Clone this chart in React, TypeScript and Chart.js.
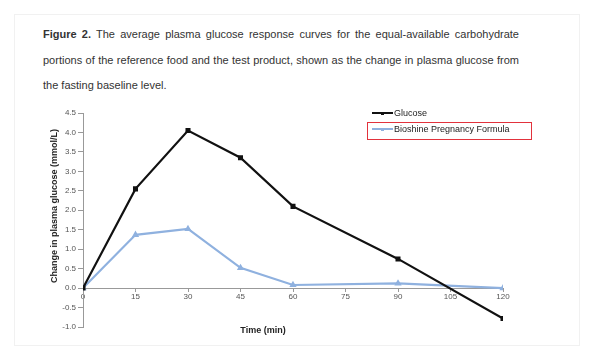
import React, { useEffect, useRef } from "react";
import { Chart, registerables } from "chart.js";

Chart.register(...registerables);

const timePoints = [0, 15, 30, 45, 60, 90, 120];
const glucoseValues = [0, 2.55, 4.05, 3.35, 2.1, 0.75, -0.78];
const bioshineValues = [0, 1.37, 1.52, 0.52, 0.08, 0.12, 0.0];
const seriesLabels = ["Glucose", "Bioshine Pregnancy Formula"];
const seriesColors = ["#111111", "#8fb1df"];
const xTicks = [0, 15, 30, 45, 60, 75, 90, 105, 120];
const yTicks = [-1.0, -0.5, 0.0, 0.5, 1.0, 1.5, 2.0, 2.5, 3.0, 3.5, 4.0, 4.5];

const FONT = "'Liberation Sans', Arial, sans-serif";

export default function App() {
  const ref = useRef<HTMLCanvasElement | null>(null);

  useEffect(() => {
    if (!ref.current) return;
    const toPts = (vals: number[]) => timePoints.map((t, i) => ({ x: t, y: vals[i] }));
    const chart = new Chart(ref.current, {
      type: "line",
      data: {
        datasets: [
          {
            label: seriesLabels[0],
            data: toPts(glucoseValues),
            borderColor: seriesColors[0],
            backgroundColor: seriesColors[0],
            borderWidth: 2.2,
            pointStyle: "rect",
            pointRadius: 2,
            tension: 0,
          },
          {
            label: seriesLabels[1],
            data: toPts(bioshineValues),
            borderColor: seriesColors[1],
            backgroundColor: seriesColors[1],
            borderWidth: 2.2,
            pointStyle: "triangle",
            pointRadius: 2,
            tension: 0,
          },
        ],
      },
      options: {
        responsive: false,
        animation: false,
        devicePixelRatio: 1,
        layout: { padding: { left: 0, right: 97, top: 13, bottom: 31 } },
        plugins: { legend: { display: false }, tooltip: { enabled: false } },
        scales: {
          x: {
            type: "linear",
            position: { y: 0 } as any,
            min: 0,
            max: 120,
            afterBuildTicks: (s: any) => {
              s.ticks = xTicks.map((v) => ({ value: v }));
            },
            ticks: {
              autoSkip: false,
              maxRotation: 0,
              color: "#555",
              font: { family: FONT, size: 8 },
              padding: 1,
              callback: (v: any) => String(v),
            },
            grid: { drawOnChartArea: false, drawTicks: true, tickLength: 3, color: "#999" },
            border: { display: true, color: "#999", width: 1 },
          },
          y: {
            min: -1,
            max: 4.5,
            afterBuildTicks: (s: any) => {
              s.ticks = yTicks.map((v) => ({ value: v }));
            },
            afterFit: (s: any) => {
              s.width = 83;
            },
            ticks: {
              autoSkip: false,
              color: "#555",
              font: { family: FONT, size: 8 },
              padding: 2,
              callback: (v: any) => Number(v).toFixed(1),
            },
            grid: { drawOnChartArea: false, drawTicks: true, tickLength: 5, color: "#999" },
            border: { display: true, color: "#999", width: 1 },
          },
        },
      },
    });
    return () => chart.destroy();
  }, []);

  const lineStyle = { fontFamily: FONT, fontSize: 11, color: "#333", whiteSpace: "nowrap" as const, textAlign: "justify" as const, textAlignLast: "justify" as const, width: 476, height: 25.5, lineHeight: "25.5px" };

  return (
    <div style={{ position: "absolute", left: 0, top: 0, width: 600, height: 358, background: "#fff", overflow: "hidden" }}>
      <div style={{ position: "absolute", left: 14, top: 14, width: 564, height: 330, border: "1px solid #f1f1f1" }} />
      <div style={{ position: "absolute", left: 43, top: 22 }}>
        <div style={lineStyle}>
          <b>Figure 2.</b> The average plasma glucose response curves for the equal-available carbohydrate
        </div>
        <div style={lineStyle}>
          portions of the reference food and the test product, shown as the change in plasma glucose from
        </div>
        <div style={{ ...lineStyle, textAlign: "left", textAlignLast: "left" }}>the fasting baseline level.</div>
      </div>
      <canvas ref={ref} width={600} height={258} style={{ position: "absolute", left: 0, top: 100, width: 600, height: 258 }} />
      <div
        style={{
          position: "absolute",
          left: 54,
          top: 206,
          transform: "translate(-50%, -50%) rotate(-90deg)",
          fontFamily: FONT,
          fontSize: 9,
          fontWeight: "bold",
          color: "#222",
          whiteSpace: "nowrap",
        }}
      >
        Change in plasma glucose (mmol/L)
      </div>
      <div
        style={{
          position: "absolute",
          left: 263,
          top: 330,
          transform: "translate(-50%, -50%)",
          fontFamily: FONT,
          fontSize: 9,
          fontWeight: "bold",
          color: "#222",
          whiteSpace: "nowrap",
        }}
      >
        Time (min)
      </div>
      {seriesLabels.map((lab, i) => (
        <div
          key={lab}
          style={{ position: "absolute", left: 372, top: i === 0 ? 107 : 123, height: 12, display: "flex", alignItems: "center", fontFamily: FONT, fontSize: 9, color: "#222", whiteSpace: "nowrap" }}
        >
          <div style={{ position: "relative", width: 21, height: 12, marginRight: 1 }}>
            <div style={{ position: "absolute", left: 0, top: 5, width: 21, height: 2, background: seriesColors[i] }} />
            <div style={{ position: "absolute", left: 9, top: 4.5, width: 3, height: 3, background: seriesColors[i] }} />
          </div>
          {lab}
        </div>
      ))}
      <div style={{ position: "absolute", left: 367, top: 122, width: 163, height: 16, border: "1px solid #e2323c" }} />
    </div>
  );
}
